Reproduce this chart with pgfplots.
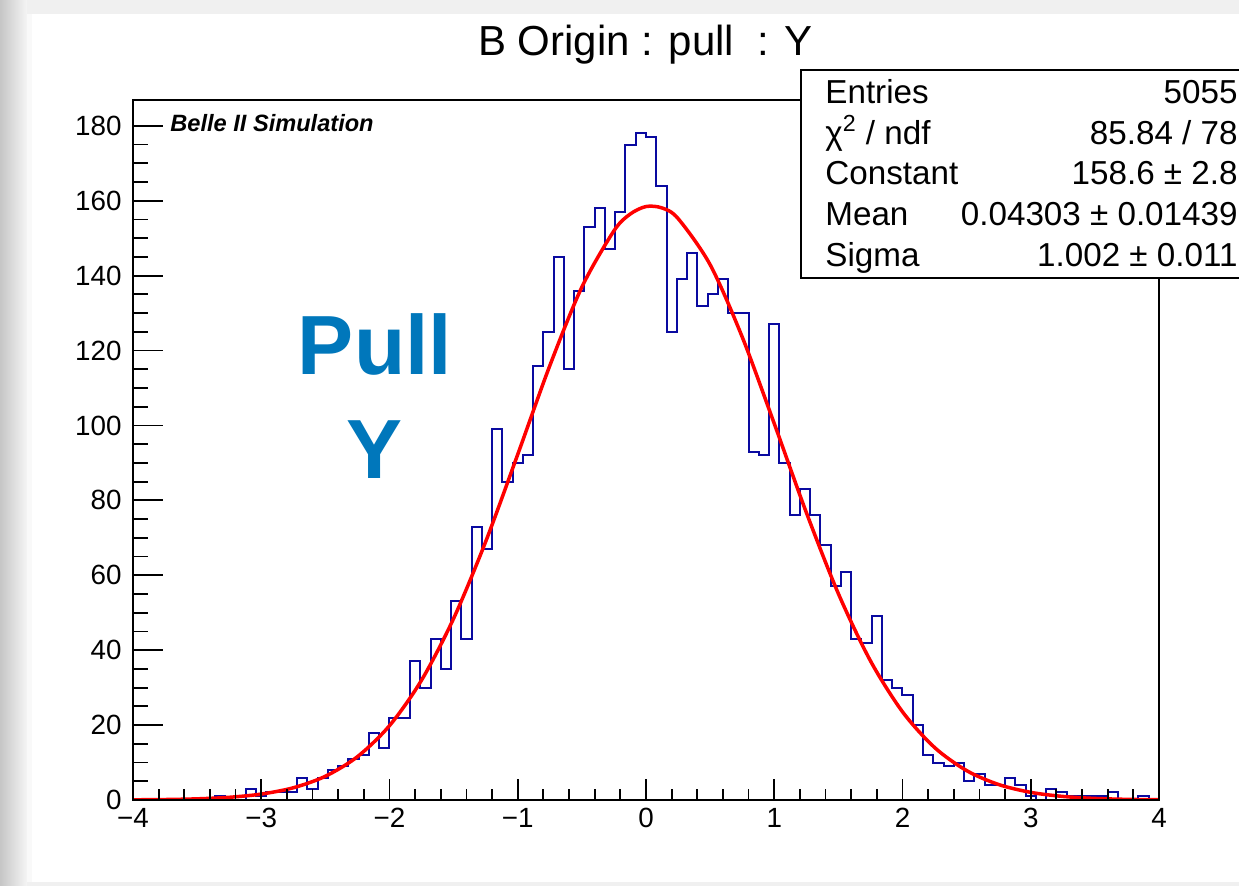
\documentclass[border=0pt]{standalone}
\usepackage{pgfplots}
\usepackage{pgfplotstable}
\pgfplotsset{compat=1.18}
\usepackage{fontspec}
\setmainfont{Liberation Sans}
\definecolor{histblue}{RGB}{10,10,160}
\definecolor{pullblue}{RGB}{0,119,187}
\definecolor{fitred}{RGB}{255,0,0}
\newcommand{\statfont}{\fontsize{16.6}{20}\selectfont}
\newcommand{\tickfont}{\fontsize{13.9}{16}\selectfont}

\pgfplotstableread{
x y
-4.00 0
-3.92 0
-3.84 0
-3.76 0
-3.68 0
-3.60 0
-3.52 0
-3.44 0
-3.36 1
-3.28 0
-3.20 0
-3.12 3
-3.04 1
-2.96 2
-2.88 2
-2.80 2
-2.72 6
-2.64 3
-2.56 6
-2.48 8
-2.40 9
-2.32 11
-2.24 12
-2.16 18
-2.08 14
-2.00 22
-1.92 22
-1.84 37
-1.76 30
-1.68 43
-1.60 35
-1.52 53
-1.44 43
-1.36 73
-1.28 67
-1.20 99
-1.12 85
-1.04 90
-0.96 92
-0.88 116
-0.80 125
-0.72 145
-0.64 115
-0.56 136
-0.48 153
-0.40 158
-0.32 147
-0.24 157
-0.16 175
-0.08 178
0.00 177
0.08 164
0.16 125
0.24 139
0.32 146
0.40 132
0.48 135
0.56 139
0.64 130
0.72 130
0.80 93
0.88 92
0.96 127
1.04 90
1.12 76
1.20 83
1.28 76
1.36 68
1.44 57
1.52 61
1.60 43
1.68 42
1.76 49
1.84 32
1.92 30
2.00 28
2.08 20
2.16 12
2.24 10
2.32 9
2.40 10
2.48 5
2.56 7
2.64 4
2.72 4
2.80 6
2.88 4
2.96 1
3.04 0
3.12 3
3.20 2
3.28 1
3.36 1
3.44 1
3.52 1
3.60 2
3.68 0
3.76 0
3.84 1
3.92 0
4.00 0
}\histdata

\begin{document}
\begin{tikzpicture}[x=0.5pt,y=0.5pt]
\clip (0,0) rectangle (1239,886);
\fill[gray!12] (0,0) rectangle (1239,886);
\shade[left color=gray!45, right color=gray!8] (0,0) rectangle (27,886);
\fill[gray!5] (27,4) rectangle (32,872);
\fill[white] (32,4) rectangle (1239,872);

% y ticks, frame, data
\begin{axis}[at={(66.5pt,43pt)}, anchor=south west, scale only axis,
  width=513pt, height=350pt,
  xmin=-4, xmax=4, ymin=0, ymax=186.9,
  axis line style={line width=0.9pt, black},
  xtick=\empty,
  ytick={0,20,...,180},
  yticklabels={0,20,40,60,80,100,120,140,160,180},
  minor y tick num=3,
  ytick pos=lower,
  tick align=inside,
  major tick length=15pt, minor tick length=7.5pt,
  tick style={black, line width=0.9pt},
  yticklabel style={font=\tickfont, inner sep=0pt, xshift=-5.5pt},
]
\addplot[const plot, histblue, line width=1pt] table[x=x, y=y] {\histdata};
\addplot[smooth, fitred, line width=1.75pt] coordinates {
(-4,0.046) (-3.75,0.123) (-3.5,0.306) (-3.25,0.716) (-3,1.577) (-2.75,3.259)
(-2.5,6.336) (-2.25,11.56) (-2,19.84) (-1.75,31.99) (-1.5,48.46) (-1.25,68.98)
(-1,92.27) (-0.75,115.96) (-0.5,136.94) (-0.25,151.96) (-0.125,156.39) (0,158.45)
(0.125,158.07) (0.25,155.25) (0.5,142.93) (0.75,123.65) (1,100.51) (1.25,76.78)
(1.5,55.10) (1.75,37.16) (2,23.55) (2.25,14.02) (2.5,7.846) (2.75,4.125)
(3,2.037) (3.25,0.946) (3.5,0.4125) (3.75,0.169) (4,0.065)
};
\end{axis}

% x ticks
\begin{axis}[at={(66.5pt,43pt)}, anchor=south west, scale only axis,
  width=513pt, height=350pt,
  xmin=-4, xmax=4, ymin=0, ymax=186.9,
  axis line style={line width=0.9pt, black},
  ytick=\empty,
  xtick={-4,-3,-2,-1,0,1,2,3,4},
  xticklabels={−4,−3,−2,−1,0,1,2,3,4},
  minor x tick num=4,
  xtick pos=lower,
  tick align=inside,
  major tick length=10.5pt, minor tick length=5.5pt,
  tick style={black, line width=0.9pt},
  xticklabel style={font=\tickfont, inner sep=0pt, yshift=-4pt},
]
\end{axis}

% title
\node[anchor=base] at (645.5,830) {\fontsize{21}{25}\selectfont B Origin : pull\ \ : Y};

% Belle II label
\node[anchor=base west, inner sep=0pt] at (170,754) {\fontsize{11.8}{14}\selectfont\bfseries\itshape Belle II Simulation};

% Pull Y
\node[anchor=base, inner sep=0pt, text=pullblue] at (375,511) {\fontsize{42}{50}\selectfont\bfseries Pull};
\node[anchor=base, inner sep=0pt, text=pullblue] at (375,407) {\fontsize{42}{50}\selectfont\bfseries Y};

% stats box
\draw[line width=0.8pt, fill=white] (801,816) rectangle (1262,608);
\node[anchor=base west, inner sep=0pt] at (825,782) {\statfont Entries};
\node[anchor=base east, inner sep=0pt] at (1238,782) {\statfont 5055};
\node[anchor=base west, inner sep=0pt] at (825,741.5) {\statfont χ\textsuperscript{2} / ndf};
\node[anchor=base east, inner sep=0pt] at (1238,741.5) {\statfont 85.84 / 78};
\node[anchor=base west, inner sep=0pt] at (825,701) {\statfont Constant};
\node[anchor=base east, inner sep=0pt] at (1238,701) {\statfont 158.6 ± 2.8};
\node[anchor=base west, inner sep=0pt] at (825,660) {\statfont Mean};
\node[anchor=base east, inner sep=0pt] at (1238,660) {\statfont 0.04303 ± 0.01439};
\node[anchor=base west, inner sep=0pt] at (825,619) {\statfont Sigma};
\node[anchor=base east, inner sep=0pt] at (1238,619) {\statfont 1.002 ± 0.011};
\end{tikzpicture}
\end{document}
